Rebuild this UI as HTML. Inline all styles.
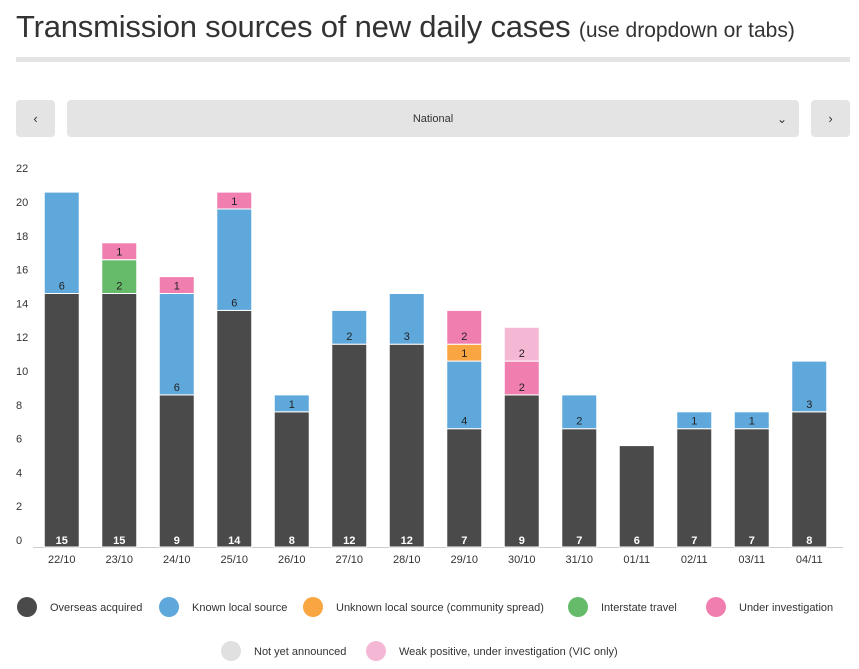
<!DOCTYPE html>
<html><head><meta charset="utf-8"><style>
body{margin:0;width:859px;height:669px;background:#fff;font-family:"Liberation Sans",sans-serif;overflow:hidden;position:relative}
.title{position:absolute;left:16px;top:9px;font-size:31px;color:#333;font-weight:normal;letter-spacing:-0.2px;white-space:nowrap}
.title span{font-size:21px;font-weight:normal;letter-spacing:0}
.rule{position:absolute;left:16px;top:57px;width:834px;height:5px;background:#e4e4e4}
.btn{position:absolute;top:100px;height:37px;background:#e4e4e4;border-radius:4px;color:#333;font-size:13px;display:flex;align-items:center;justify-content:center}
</style></head><body>
<div class="title">Transmission sources of new daily cases <span>(use dropdown or tabs)</span></div>
<div class="rule"></div>
<div class="btn" style="left:16px;width:39px">‹</div>
<div class="btn" style="left:67px;width:732px;font-size:11px">National<span style="position:absolute;right:12px;font-size:12px">⌄</span></div>
<div class="btn" style="left:811px;width:39px">›</div>
<svg id="c" width="859" height="669" style="position:absolute;left:0;top:0"></svg>
<script>
const categories=["22/10","23/10","24/10","25/10","26/10","27/10","28/10","29/10","30/10","31/10","01/11","02/11","03/11","04/11"];
const overseas=[15,15,9,14,8,12,12,7,9,7,6,7,7,8];
const knownLocal=[6,0,6,6,1,2,3,4,0,2,0,1,1,3];
const unknownLocal=[0,0,0,0,0,0,0,1,0,0,0,0,0,0];
const interstate=[0,2,0,0,0,0,0,0,0,0,0,0,0,0];
const underInv=[0,1,1,1,0,0,0,2,2,0,0,0,0,0];
const notYet=[0,0,0,0,0,0,0,0,0,0,0,0,0,0];
const weakPos=[0,0,0,0,0,0,0,0,2,0,0,0,0,0];
const yTicks=[0,2,4,6,8,10,12,14,16,18,20,22];
const series=[
 {name:"Overseas acquired",vals:overseas,color:"#4a4a4a"},
 {name:"Known local source",vals:knownLocal,color:"#5fa8dc"},
 {name:"Unknown local source (community spread)",vals:unknownLocal,color:"#f9a642"},
 {name:"Interstate travel",vals:interstate,color:"#66bb6a"},
 {name:"Under investigation",vals:underInv,color:"#f07fb0"},
 {name:"Not yet announced",vals:notYet,color:"#e0e0e0"},
 {name:"Weak positive, under investigation (VIC only)",vals:weakPos,color:"#f5b8d4"}];
const svg=document.getElementById('c');const NS="http://www.w3.org/2000/svg";
const U=16.9;const y=v=>547-v*U;const x0=33,step=57.5;const xc=i=>x0+step*(i+0.5);
function mk(t,a,p){const e=document.createElementNS(NS,t);for(const k in a)e.setAttribute(k,a[k]);(p||svg).appendChild(e);return e;}
yTicks.forEach(t=>{const e=mk('text',{x:16,y:y(t)-3,'font-size':11,fill:'#333'});e.textContent=t;

});
mk('line',{x1:33,x2:843,y1:547.5,y2:547.5,stroke:'#ccc'});
categories.forEach((c,i)=>{let base=0;
 series.forEach((s,si)=>{const v=s.vals[i];if(!v)return;
  const r=mk('rect',{x:xc(i)-17.5,y:y(base+v),width:35,height:v*U,fill:s.color,stroke:'#fff','stroke-width':1});
  
  
  const t=mk('text',{x:xc(i),y:si==0?y(base)-3:y(base)-4,'text-anchor':'middle','font-size':11,fill:si==0?'#fff':'#222','font-weight':si==0?'bold':'normal'});t.textContent=v;
  
  
  base+=v;});
 const l=mk('text',{x:xc(i),y:563,'text-anchor':'middle','font-size':11,fill:'#333'});l.textContent=c;
 
 
});
const leg=[[0,27,607],[1,169,607],[2,313,607],[3,578,607],[4,716,607],[5,231,651],[6,376,651]];
leg.forEach(([si,lx,ly])=>{const g=mk('g',{});
 
 
 mk('circle',{cx:lx,cy:ly,r:10,fill:series[si].color},g);
 const t=mk('text',{x:lx+23,y:ly+4,'font-size':11,fill:'#333'},g);t.textContent=series[si].name;});
</script>
</body></html>
